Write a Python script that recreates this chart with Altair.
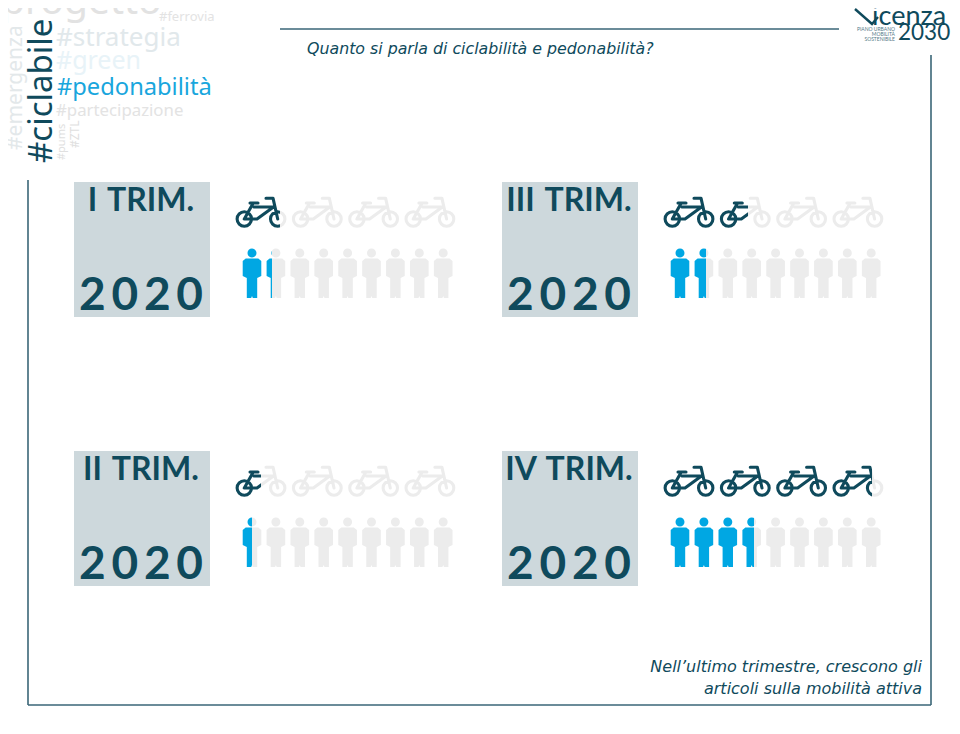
import altair as alt
import pandas as pd

# ---- values -----------------------------------------------------------
QUARTERS = ["I \u200aTRIM.", "II \u200aTRIM.", "III \u200aTRIM.", "IV \u200aTRIM."]
YEAR = "2\u200a\u200a0\u200a\u200a2\u200a\u200a0"
BIKES = [0.9, 0.5, 1.55, 3.8]
PEOPLE = [1.3, 0.5, 1.6, 3.65]
BIKE_TOTAL = 4
PEOPLE_TOTAL = 9

# ---- layout / style ----------------------------------------------------
PANEL_X = [74, 74, 502, 502]
PANEL_Y = [182, 451, 182, 451]
DARK = "#0f4a5c"
BLUE = "#00a7e3"
GREY = "#ececec"
BOX = "#cdd8dc"
FRAME = "#3a6677"
FONT = "Lato"

X = alt.Scale(domain=[8, 952], nice=False, zero=False)
Y = alt.Scale(domain=[718, 8], nice=False, zero=False)


def xenc(f="x"):
    return alt.X(f"{f}:Q", scale=X, axis=None)


def yenc(f="y"):
    return alt.Y(f"{f}:Q", scale=Y, axis=None)


def seg_path(s, w, h, cmds):
    # Vega draws a custom shape with -1..1 spanning sqrt(size)
    out = []
    for c in cmds:
        if isinstance(c, str):
            out.append(c)
        else:
            out.append(f"{(c[0]-w/2)*2/s:.4f} {(c[1]-h/2)*2/s:.4f}")
    return " ".join(out)


def circle(cx, cy, r):
    k = 0.5523 * r
    return [
        "M", (cx - r, cy),
        "C", (cx - r, cy - k), ",", (cx - k, cy - r), ",", (cx, cy - r),
        "C", (cx + k, cy - r), ",", (cx + r, cy - k), ",", (cx + r, cy),
        "C", (cx + r, cy + k), ",", (cx + k, cy + r), ",", (cx, cy + r),
        "C", (cx - k, cy + r), ",", (cx - r, cy + k), ",", (cx - r, cy),
        "Z",
    ]


# icon shapes, in a box of w x h pixels
BW, BH = 50.0, 30.0
bike_cmds = (
    circle(8.3, 22, 7.2)
    + circle(41.7, 22, 7.2)
    + [
        "M", (8.3, 22), "L", (21, 22), "L", (37.5, 10), "L", (18, 10),
        "M", (8.3, 22), "L", (17, 6.5),
        "M", (14, 6), "L", (22, 6),
        "M", (41.7, 22), "L", (37, 1.2), "L", (30, 1.2),
    ]
)
BIKE_PATH = seg_path(BW, BW, BH, bike_cmds)
BIKE_SIZE = BW * BW

PW, PH = 18.6, 50.0
person_cmds = circle(9.3, 5, 4.5) + [
    "M", (3, 10.5), "L", (15.6, 10.5), "L", (18.6, 13), "L", (18.6, 28),
    "L", (14.5, 30), "L", (14.5, 50), "L", (10.1, 50), "L", (9.3, 48),
    "L", (8.5, 50), "L", (4.1, 50), "L", (4.1, 30), "L", (0, 28), "L", (0, 13), "Z",
]
PERSON_PATH = seg_path(PH, PW, PH, person_cmds)
PERSON_SIZE = PH * PH


def gradient(frac, c):
    return alt.LinearGradient(
        gradient="linear", x1=0, x2=1, y1=0, y2=0,
        stops=[
            alt.GradientStop(offset=0, color=c),
            alt.GradientStop(offset=frac, color=c),
            alt.GradientStop(offset=frac, color=GREY),
            alt.GradientStop(offset=1, color=GREY),
        ],
    )


layers = []

# frame
FRAME_LINES = pd.DataFrame(
    {
        "x": [280, 931, 28, 28],
        "x2": [839, 931, 931, 28],
        "y": [29, 55, 705, 180],
        "y2": [29, 705, 705, 705],
    }
)
layers.append(
    alt.Chart(FRAME_LINES)
    .mark_rule(color=FRAME, strokeWidth=1.6)
    .encode(x=xenc(), x2="x2:Q", y=yenc(), y2="y2:Q")
)

# word cloud and free texts: text, x, y, size, colour, angle, align, weight, italic, font
NS = "Noto Sans"
DV = "DejaVu Sans"
TEXTS = [
    ("progetto", 1, 14, 39, "#e2e2e2", 0, "left", "normal", "normal", NS),
    ("#sostenibile", 160, 7, 19, "#e6e6e6", 0, "left", "normal", "normal", NS),
    ("#ferrovia", 159, 21, 13, "#e3e3e3", 0, "left", "normal", "normal", NS),
    ("#strategia", 56, 46, 26, "#e1e8eb", 0, "left", "normal", "normal", NS),
    ("#green", 56, 69, 25, "#e8f3f8", 0, "left", "normal", "normal", NS),
    ("#pedonabilità", 57, 95, 23.7, "#19a6dd", 0, "left", "normal", "normal", NS),
    ("#partecipazione", 56, 116, 16.8, "#e3e3e3", 0, "left", "normal", "normal", NS),
    ("#ciclabile", 52, 163, 33, DARK, 270, "left", "normal", "normal", NS),
    ("#emergenza", 22, 150, 21, "#e3e8ea", 270, "left", "normal", "normal", NS),
    ("#ambiente", 6, 125, 20, "#e6e6e6", 270, "left", "normal", "normal", NS),
    ("#pums", 65, 160, 11, "#e0e0e0", 270, "left", "normal", "normal", NS),
    ("#ZTL", 79, 148, 12, "#e0e0e0", 270, "left", "normal", "normal", NS),
    ("Quanto si parla di ciclabilità e pedonabilità?", 307, 54, 15.8, DARK, 0, "left", "normal", "italic", DV),
    ("Nell’ultimo trimestre, crescono gli", 922, 672, 16, DARK, 0, "right", "normal", "italic", DV),
    ("articoli sulla mobilità attiva", 922, 694, 16, DARK, 0, "right", "normal", "italic", DV),
    # logo
    ("icenza", 872, 25, 27, DARK, 0, "left", "normal", "normal", "Lato"),
    ("2030", 898, 40, 22.5, DARK, 0, "left", "normal", "normal", "Lato"),
    ("PIANO URBANO", 895, 31, 5, "#557a88", 0, "right", "normal", "normal", "Lato"),
    ("MOBILITÀ", 895, 36, 5, "#557a88", 0, "right", "normal", "normal", "Lato"),
    ("SOSTENIBILE", 895, 41, 5, "#557a88", 0, "right", "normal", "normal", "Lato"),
]
for t in TEXTS:
    layers.append(
        alt.Chart(pd.DataFrame({"x": [t[1]], "y": [t[2]], "t": [t[0]]}))
        .mark_text(
            fontSize=t[3], color=t[4], angle=t[5], align=t[6], fontWeight=t[7],
            fontStyle=t[8], font=t[9], baseline="alphabetic",
        )
        .encode(x=xenc(), y=yenc(), text="t:N")
    )

# logo V
LOGO_V = pd.DataFrame({"x": [855, 872, 878], "y": [9, 24, 17], "o": [0, 1, 2]})
layers.append(
    alt.Chart(LOGO_V)
    .mark_line(color=DARK, strokeWidth=2.4)
    .encode(x=xenc(), y=yenc(), order="o:Q")
)

# panels
boxes = pd.DataFrame(
    {
        "x": PANEL_X,
        "y": PANEL_Y,
        "x2": [p + 136 for p in PANEL_X],
        "y2": [p + 135 for p in PANEL_Y],
        "q": QUARTERS,
        "xc": [p + 67 for p in PANEL_X],
        "yq": [p + 29 for p in PANEL_Y],
        "yy": [p + 128 for p in PANEL_Y],
        "year": [YEAR] * 4,
    }
)
layers.append(
    alt.Chart(boxes).mark_rect(color=BOX).encode(x=xenc(), x2="x2:Q", y=yenc(), y2="y2:Q")
)
layers.append(
    alt.Chart(boxes)
    .mark_text(font=FONT, fontSize=32, fontWeight="bold", color=DARK, baseline="alphabetic", align="center")
    .encode(x=xenc("xc"), y=yenc("yq"), text="q:N")
)
layers.append(
    alt.Chart(boxes)
    .mark_text(font=FONT, fontSize=46, fontWeight="bold", color=DARK, baseline="alphabetic", align="center")
    .encode(x=xenc("xc"), y=yenc("yy"), text="year:N")
)


def icons(values, total, x0, step, y0, col, path, size, filled):
    rows = {"full": [], "empty": []}
    partials = []
    for px, py, v in zip(PANEL_X, PANEL_Y, values):
        for i in range(total):
            rec = {"x": px + x0 + i * step, "y": py + y0}
            f = v - i
            if f >= 1:
                rows["full"].append(rec)
            elif f <= 0:
                rows["empty"].append(rec)
            else:
                partials.append((rec, round(f, 3)))

    def mk(df, paint):
        kw = dict(shape=path, size=size, opacity=1, filled=filled)
        if filled:
            kw.update(fill=paint, strokeWidth=0)
        else:
            kw.update(stroke=paint, strokeWidth=3.1, strokeCap="round", strokeJoin="round")
        return alt.Chart(df).mark_point(**kw).encode(x=xenc(), y=yenc())

    out = [mk(pd.DataFrame(rows["empty"]), GREY), mk(pd.DataFrame(rows["full"]), col)]
    for rec, f in partials:
        out.append(mk(pd.DataFrame([rec]), gradient(f, col)))
    return out


layers += icons(BIKES, BIKE_TOTAL, 187, 56.3, 30, DARK, BIKE_PATH, BIKE_SIZE, False)
layers += icons(PEOPLE, PEOPLE_TOTAL, 178, 23.9, 91, BLUE, PERSON_PATH, PERSON_SIZE, True)

chart = (
    alt.layer(*layers)
    .properties(width=944, height=710, padding=0, background="white",
                autosize=alt.AutoSizeParams(type="none"))
    .configure_view(stroke=None)
)
chart.save("out.html", embed_options={"renderer": "svg", "actions": False})
